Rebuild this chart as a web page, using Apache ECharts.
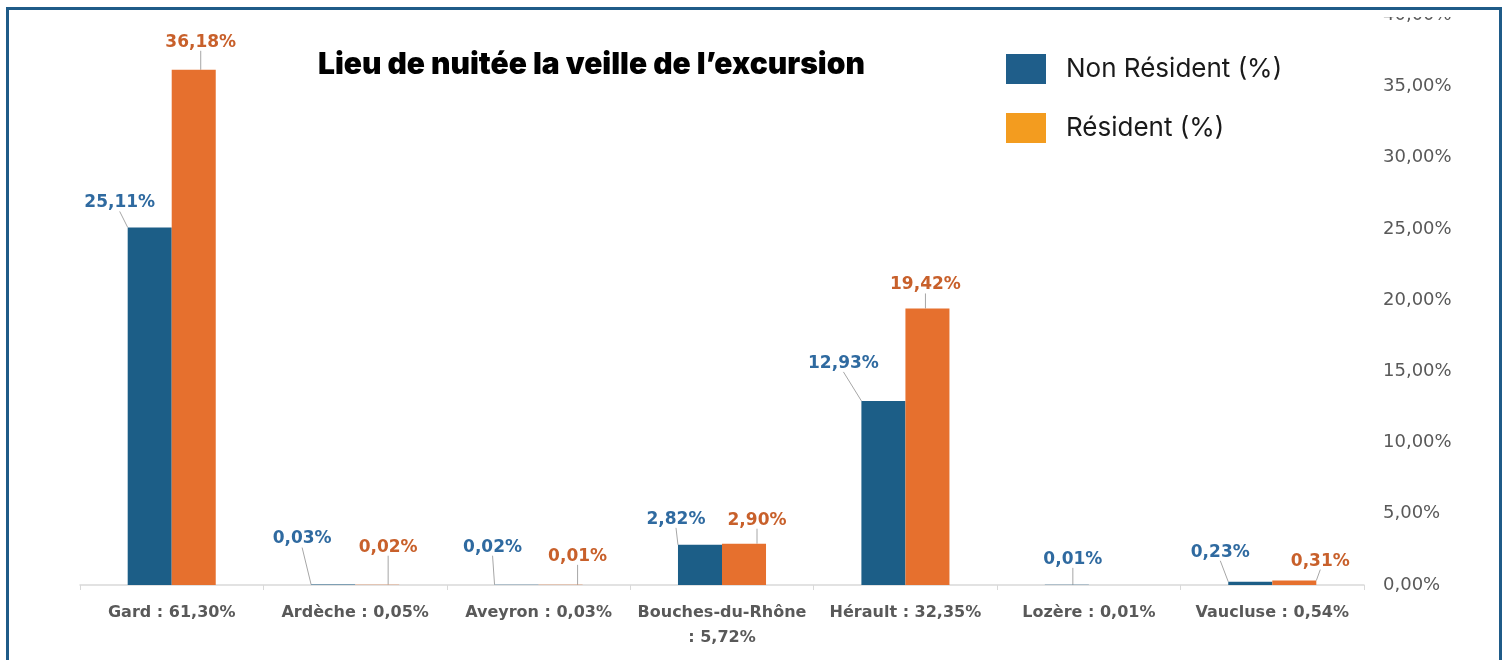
<!DOCTYPE html>
<html>
<head>
<meta charset="utf-8">
<script src="https://cdn.jsdelivr.net/npm/echarts@6/dist/echarts.min.js"></script>
<style>
  html, body { margin: 0; padding: 0; background: #fff; }
  #main { position: absolute; left: 0; top: 0; width: 1507px; height: 660px; }
  #frame { position: absolute; left: 6px; top: 7px; width: 1490px; height: 700px;
           border: 3px solid #1f5b88; pointer-events: none; }
  #strip { position: absolute; left: 1370px; top: 10px; width: 120px; height: 7px; background: #fff; }
</style>
</head>
<body>
<div id="main"></div>
<div id="strip"></div>
<div id="frame"></div>
<script>
// donnees
var departements = ['Gard', 'Ardèche', 'Aveyron', 'Bouches-du-Rhône', 'Hérault', 'Lozère', 'Vaucluse'];
var totaux = [61.30, 0.05, 0.03, 5.72, 32.35, 0.01, 0.54];
var nonResident = [25.11, 0.03, 0.02, 2.82, 12.93, 0.01, 0.23];
var resident = [36.18, 0.02, 0.01, 2.90, 19.42, null, 0.31];
var yTicks = [0, 5, 10, 15, 20, 25, 30, 35, 40];

// decalage des etiquettes (dx, dy) pour chaque barre
var decalNR = [[-30, -11], [-31, -32], [-24, -24], [-24, -12], [-40, -24], [6, -12], [-30, -16]];
var decalR = [[7, -14], [11, -24], [17, -15], [13, -10], [-2, -10], [0, 0], [26, -6]];

var fmt = function (v) { return v.toFixed(2).replace('.', ',') + '%'; };

var categories = departements.map(function (d, i) {
    var t = ': ' + fmt(totaux[i]);
    return d.length > 12 ? d + '\n' + t : d + ' ' + t;
});

var chart = echarts.init(document.getElementById('main'));

var option = {
    animation: false,
    title: {
        text: 'Lieu de nuitée la veille de l’excursion',
        left: 313, top: 45,
        textStyle: { fontFamily: 'Inter', fontWeight: 900, fontSize: 30, color: '#000' }
    },
    legend: {
        orient: 'vertical',
        left: 1001, top: 49,
        itemWidth: 40, itemHeight: 30, itemGap: 29,
        icon: 'rect',
        textStyle: { fontFamily: 'Inter', fontSize: 26, color: '#1a1a1a', padding: [0, 0, 0, 15] },
        data: [
            { name: 'Non Résident (%)', itemStyle: { color: '#1f5e8a' } },
            { name: 'Résident (%)', itemStyle: { color: '#f39c1f' } }
        ]
    },
    grid: { left: 80, right: 143, top: 15.4, bottom: 75 },
    xAxis: {
        type: 'category',
        data: categories,
        axisLine: { lineStyle: { color: '#d9d9d9', width: 1.5 } },
        axisTick: { show: true, length: 5, lineStyle: { color: '#d9d9d9' } },
        axisLabel: {
            interval: 0,
            margin: 15, lineHeight: 25,
            fontFamily: 'DejaVu Sans', fontWeight: 'bold', fontSize: 16, color: '#595959'
        }
    },
    yAxis: {
        type: 'value',
        position: 'right',
        min: yTicks[0], max: yTicks[yTicks.length - 1], interval: 5,
        splitLine: { show: false },
        axisLine: { show: false },
        axisTick: { show: false },
        axisLabel: {
            margin: 19,
            fontFamily: 'DejaVu Sans', fontSize: 18, color: '#595959',
            formatter: function (v) { return fmt(v); }
        }
    },
    series: [
        {
            name: 'Non Résident (%)',
            type: 'bar',
            barGap: 0,
            barCategoryGap: '52%',
            itemStyle: { color: '#1c5e87' },
            data: nonResident,
            label: {
                show: true, position: 'top', distance: 5,
                fontFamily: 'DejaVu Sans', fontWeight: 'bold', fontSize: 17, color: '#2f6aa0',
                formatter: function (p) { return fmt(p.value); }
            },
            labelLine: { show: true, lineStyle: { color: '#a6a6a6', width: 1 } },
            labelLayout: function (p) {
                var d = decalNR[p.dataIndex];
                return { dx: d[0], dy: d[1] };
            }
        },
        {
            name: 'Résident (%)',
            type: 'bar',
            barGap: 0,
            barCategoryGap: '52%',
            itemStyle: { color: '#e6702e' },
            data: resident,
            label: {
                show: true, position: 'top', distance: 5,
                fontFamily: 'DejaVu Sans', fontWeight: 'bold', fontSize: 17, color: '#c8602b',
                formatter: function (p) { return fmt(p.value); }
            },
            labelLine: { show: true, lineStyle: { color: '#a6a6a6', width: 1 } },
            labelLayout: function (p) {
                var d = decalR[p.dataIndex];
                return { dx: d[0], dy: d[1] };
            }
        }
    ]
};

chart.setOption(option);
</script>
</body>
</html>
